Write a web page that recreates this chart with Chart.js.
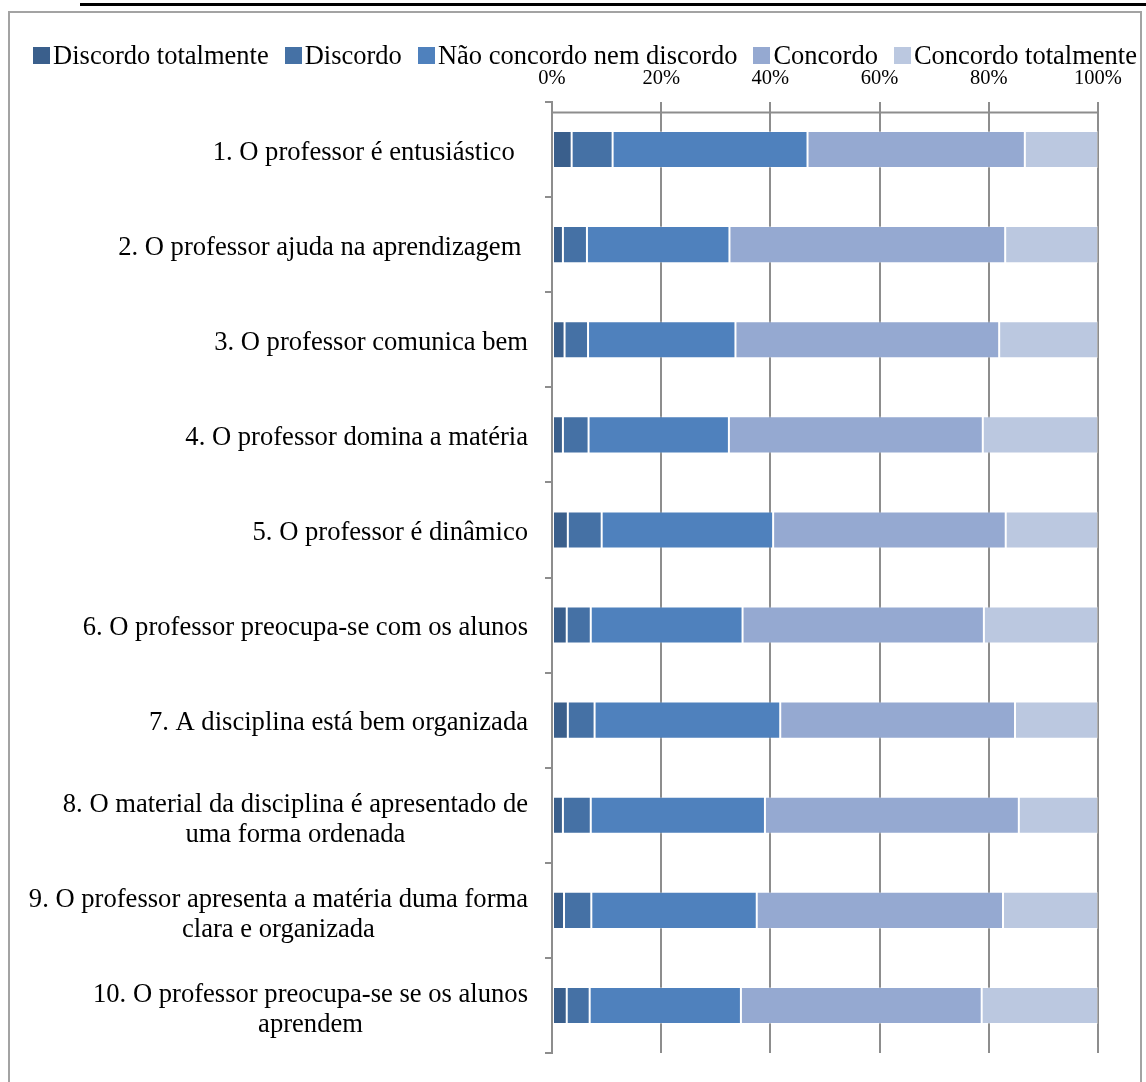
<!DOCTYPE html>
<html>
<head>
<meta charset="utf-8">
<script src="https://cdn.jsdelivr.net/npm/chart.js@4"></script>
<style>
  html, body { margin: 0; padding: 0; background: #fff; }
  #page { position: relative; width: 1146px; height: 1082px; overflow: hidden; }
  #rule { position: absolute; left: 80px; top: 3px; width: 1066px; height: 3px; background: #000; }
  #frame { position: absolute; left: 8px; top: 11px; width: 1134px; height: 1100px;
           box-sizing: border-box; border: 2px solid #a3a3a3; }
  #chartBox { position: absolute; left: 0; top: 0; width: 1146px; height: 1082px; }
  #legend { position: absolute; left: 18px; top: 40px; width: 1134px; height: 30px;
            display: flex; justify-content: center; align-items: center;
            font: 26.5px "Liberation Serif", "Times New Roman", serif; color: #000; white-space: nowrap; }
  #legend .item { display: flex; align-items: center; margin: 0 8px; }
  #legend .box { width: 17px; height: 17px; margin-right: 3px; }
</style>
</head>
<body>
<div id="page">
  <div id="rule"></div>
  <div id="frame"></div>
  <div id="chartBox"><canvas id="likertChart"></canvas></div>
  <div id="legend"></div>
</div>
<script>
// questionnaire items
const labels = [
  '1. O professor é entusiástico  ',
  '2. O professor ajuda na aprendizagem ',
  '3. O professor comunica bem',
  '4. O professor domina a matéria',
  '5. O professor é dinâmico',
  '6. O professor preocupa-se com os alunos',
  '7. A disciplina está bem organizada',
  ['8. O material da disciplina é apresentado de', 'uma forma ordenada'],
  ['9. O professor apresenta a matéria duma forma', 'clara e organizada'],
  ['10. O professor preocupa-se se os alunos', 'aprendem']
];

const seriesNames = ['Discordo totalmente', 'Discordo', 'Não concordo nem discordo', 'Concordo', 'Concordo totalmente'];

// answer shares (%)
const discordoTotal = [3.6, 2.0, 2.3, 2.0, 2.9, 2.7, 2.9, 2.0, 2.2, 2.7];
const discordo      = [7.5, 4.4, 4.3, 4.7, 6.2, 4.4, 4.9, 5.1, 5.0, 4.2];
const neutro        = [35.7, 26.1, 27.0, 25.7, 31.4, 27.8, 34.0, 31.9, 30.3, 27.7];
const concordo      = [39.8, 50.5, 48.3, 46.5, 42.6, 44.2, 43.0, 46.5, 45.1, 44.1];
const concordoTotal = [13.4, 17.0, 18.1, 21.1, 16.9, 20.9, 15.2, 14.5, 17.4, 21.3];

const xTicks = [0, 20, 40, 60, 80, 100];

const colors = ['#3a5f8c', '#4571a5', '#4f81bd', '#95a9d1', '#bbc8e0'];
const serif = '"Liberation Serif", "Times New Roman", serif';
const gridGrey = '#8d8d8d';

const seriesData = [discordoTotal, discordo, neutro, concordo, concordoTotal];

// category labels: right-aligned block, lines centred inside the block
const itemLabels = {
  id: 'itemLabels',
  afterDraw(chart) {
    const ctx = chart.ctx;
    const yScale = chart.scales.y;
    const right = chart.chartArea.left - 24;
    const lineH = 30;
    ctx.save();
    ctx.font = '26.6px ' + serif;
    ctx.fillStyle = '#000';
    ctx.textAlign = 'center';
    ctx.textBaseline = 'middle';
    chart.data.labels.forEach((lab, i) => {
      const lines = Array.isArray(lab) ? lab : [lab];
      const widest = Math.max(...lines.map(l => ctx.measureText(l).width));
      const cx = right - widest / 2;
      const cy = yScale.getPixelForValue(i) + (lines.length > 1 ? 5 : 3);
      lines.forEach((l, j) => {
        ctx.fillText(l, cx, cy + (j - (lines.length - 1) / 2) * lineH);
      });
    });
    ctx.restore();
  }
};

// horizontal axis line sits a little below the top of the plot
const topAxisLine = {
  id: 'topAxisLine',
  afterDatasetsDraw(chart) {
    const { ctx, chartArea } = chart;
    const y = chartArea.top + 10.5;
    ctx.save();
    ctx.strokeStyle = gridGrey;
    ctx.lineWidth = 2;
    ctx.beginPath();
    ctx.moveTo(chartArea.left - 1, y);
    ctx.lineTo(chartArea.right + 1, y);
    ctx.stroke();
    ctx.restore();
  }
};

const chart = new Chart(document.getElementById('likertChart'), {
  type: 'bar',
  data: {
    labels: labels,
    datasets: seriesNames.map((name, k) => ({
      label: name,
      data: seriesData[k],
      backgroundColor: colors[k],
      borderColor: 'rgba(255,255,255,0.3)',
      borderWidth: 1,
      borderSkipped: false,
      categoryPercentage: 1,
      barPercentage: 0.39
    }))
  },
  options: {
    indexAxis: 'y',
    responsive: true,
    maintainAspectRatio: false,
    animation: false,
    layout: { padding: { left: 0, right: 48, top: 0, bottom: 29 } },
    plugins: {
      legend: { display: false },
      tooltip: { enabled: false }
    },
    scales: {
      x: {
        position: 'top',
        stacked: true,
        min: 0,
        max: 100,
        afterBuildTicks(scale) {
          scale.ticks = xTicks.map(v => ({ value: v }));
        },
        afterFit(scale) { scale.height = 102; },
        ticks: {
          padding: 11,
          color: '#000',
          font: { family: serif, size: 20.5 },
          callback: v => v + '%'
        },
        grid: { color: gridGrey, lineWidth: 2, drawTicks: false },
        border: { display: false }
      },
      y: {
        stacked: true,
        afterFit(scale) { scale.width = 552; },
        ticks: { display: false },
        grid: { drawOnChartArea: false, drawTicks: true, tickLength: 7, color: gridGrey, lineWidth: 2, offset: true },
        border: { display: true, color: gridGrey, width: 2 }
      }
    }
  },
  plugins: [itemLabels, topAxisLine]
});

// legend built from the chart's datasets
const legendEl = document.getElementById('legend');
chart.data.datasets.forEach(ds => {
  const item = document.createElement('div');
  item.className = 'item';
  const box = document.createElement('span');
  box.className = 'box';
  box.style.background = ds.backgroundColor;
  const txt = document.createElement('span');
  txt.textContent = ds.label;
  item.appendChild(box);
  item.appendChild(txt);
  legendEl.appendChild(item);
});
</script>
</body>
</html>
